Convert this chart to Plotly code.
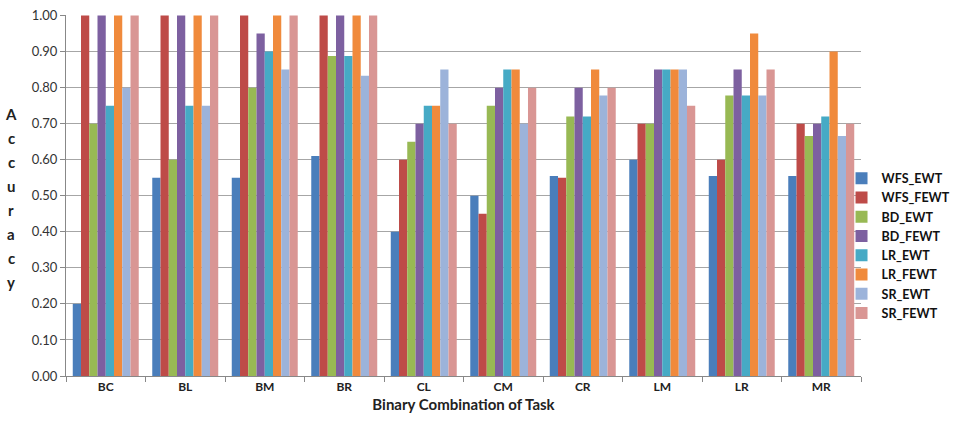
import plotly.graph_objects as go

categories = ["BC", "BL", "BM", "BR", "CL", "CM", "CR", "LM", "LR", "MR"]
series_names = ["WFS_EWT", "WFS_FEWT", "BD_EWT", "BD_FEWT", "LR_EWT", "LR_FEWT", "SR_EWT", "SR_FEWT"]

wfs_ewt  = [0.20, 0.55, 0.55, 0.61, 0.40, 0.50, 0.555, 0.60, 0.555, 0.555]
wfs_fewt = [1.00, 1.00, 1.00, 1.00, 0.60, 0.45, 0.55, 0.70, 0.60, 0.70]
bd_ewt   = [0.70, 0.60, 0.80, 0.888, 0.65, 0.75, 0.72, 0.70, 0.778, 0.666]
bd_fewt  = [1.00, 1.00, 0.95, 1.00, 0.70, 0.80, 0.80, 0.85, 0.85, 0.70]
lr_ewt   = [0.75, 0.75, 0.90, 0.888, 0.75, 0.85, 0.72, 0.85, 0.778, 0.72]
lr_fewt  = [1.00, 1.00, 1.00, 1.00, 0.75, 0.85, 0.85, 0.85, 0.95, 0.90]
sr_ewt   = [0.80, 0.75, 0.85, 0.833, 0.85, 0.70, 0.778, 0.85, 0.778, 0.666]
sr_fewt  = [1.00, 1.00, 1.00, 1.00, 0.70, 0.80, 0.80, 0.75, 0.85, 0.70]

series_values = [wfs_ewt, wfs_fewt, bd_ewt, bd_fewt, lr_ewt, lr_fewt, sr_ewt, sr_fewt]
colors = ["#4A7EBB", "#BE4B48", "#98B954", "#7D60A0", "#46AAC5", "#F08A3C", "#9CB3DA", "#D99694"]

y_ticks = [i / 10 for i in range(11)]
y_title = "Accuracy"

fig = go.Figure()
for name, vals, col in zip(series_names, series_values, colors):
    fig.add_trace(go.Bar(x=categories, y=vals, name=name, marker=dict(color=col, line=dict(width=0))))

font_family = "Lato, 'Open Sans', sans-serif"

# vertical stacked y-axis title, one letter per line
annotations = []
top_px, step_px = 108, 24.6
for i, ch in enumerate(y_title):
    ypx = top_px + i * step_px
    annotations.append(dict(
        text=ch, xref="paper", yref="paper",
        x=(11 - 66) / 795, y=(376 - ypx) / 369,
        xanchor="center", yanchor="middle", showarrow=False,
        font=dict(size=15, color="#222", weight="bold"),
    ))

fig.update_layout(
    width=967, height=430,
    margin=dict(l=66, r=106, t=7, b=54),
    paper_bgcolor="white", plot_bgcolor="white",
    barmode="group", bargap=0.17, bargroupgap=0,
    font=dict(family=font_family, color="#222"),
    showlegend=True,
    legend=dict(x=0.9755, xanchor="left", y=0.588, yanchor="top",
                font=dict(size=12.5, family=font_family, color="#111", weight="bold"),
                itemwidth=30, tracegroupgap=0, bgcolor="rgba(0,0,0,0)"),
    xaxis=dict(
        type="category", tickson="boundaries", ticks="outside", ticklen=5, tickcolor="#888",
        showline=True, linecolor="#888", linewidth=1, showgrid=False,
        tickfont=dict(size=12, color="#222", weight="bold"),
        title=dict(text="Binary Combination of Task", font=dict(size=15, color="#222", weight="bold"), standoff=6),
    ),
    yaxis=dict(
        range=[0, 1.0015], tickvals=y_ticks, tickformat=".2f",
        ticks="outside", ticklen=5, tickcolor="#888", ticklabeloverflow="allow",
        showline=True, linecolor="#888", linewidth=1,
        showgrid=True, gridcolor="#A6A6A6", gridwidth=1,
        tickfont=dict(size=13, color="#333"),
        zeroline=False,
    ),
    annotations=annotations,
)

fig.write_html("out.html")
